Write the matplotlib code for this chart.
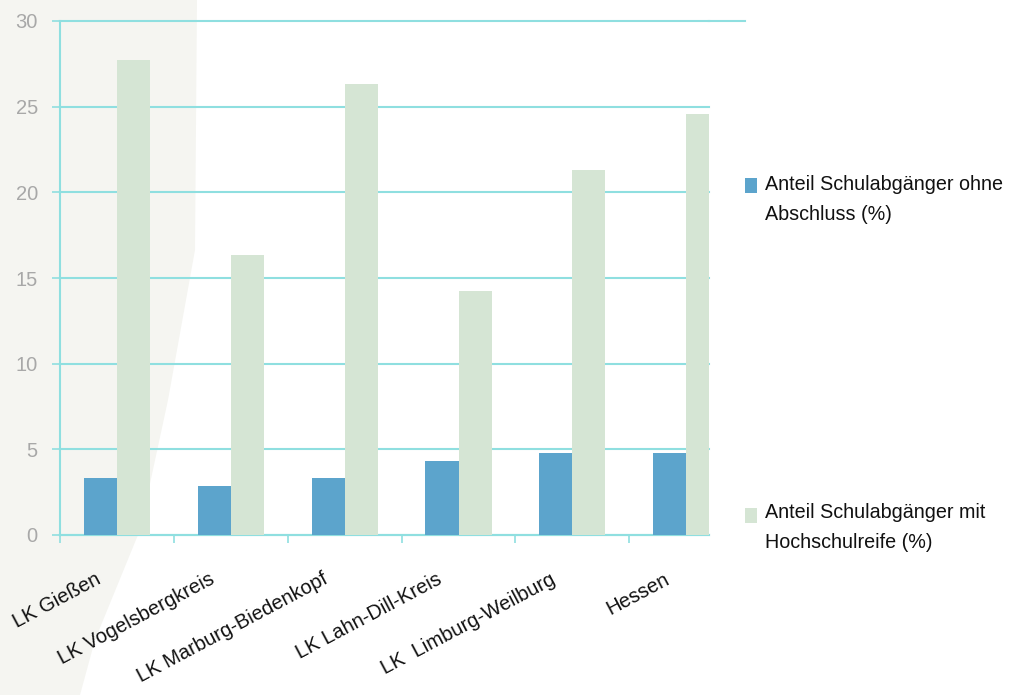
import matplotlib
matplotlib.use("Agg")
import matplotlib.pyplot as plt
from matplotlib.patches import Polygon, Rectangle
from matplotlib.lines import Line2D

categories = ["LK Gießen", "LK Vogelsbergkreis", "LK Marburg-Biedenkopf",
              "LK Lahn-Dill-Kreis", "LK  Limburg-Weilburg", "Hessen"]
ohne_abschluss = [3.3, 2.85, 3.3, 4.3, 4.8, 4.8]
hochschulreife = [27.7, 16.35, 26.3, 14.25, 21.3, 24.6]
legend_labels = ["Anteil Schulabgänger ohne\nAbschluss (%)",
                 "Anteil Schulabgänger mit\nHochschulreife (%)"]
yticks = [0, 5, 10, 15, 20, 25, 30]

BLUE = "#5ca4cc"
GREEN = "#d5e5d4"
GRID = "#8fdfe0"
FONT = ["Liberation Sans", "DejaVu Sans"]

W, H = 1011, 695
fig = plt.figure(figsize=(W / 100, H / 100), dpi=100)
fig.patch.set_facecolor("white")

# faint textured background on the left
bg = Polygon([(0, 1), (197 / W, 1), (195 / W, 1 - 250 / H), (168 / W, 1 - 400 / H),
              (140 / W, 1 - 530 / H), (95 / W, 1 - 640 / H), (80 / W, 0), (0, 0)],
             closed=True, transform=fig.transFigure, facecolor="#f5f5f1",
             edgecolor="none", zorder=-10)
fig.patches.append(bg)

ax = fig.add_axes([60 / W, 1 - 535 / H, (709 - 60) / W, (535 - 21) / H], zorder=1)
ax.set_facecolor("none")

x = list(range(len(categories)))
bw = 0.29
ax.bar([i - bw / 2 for i in x], ohne_abschluss, width=bw, color=BLUE, zorder=3)
ax.bar([i + bw / 2 for i in x], hochschulreife, width=bw, color=GREEN, zorder=3)

ax.set_ylim(0, 30)
ax.set_xlim(-0.5, 5.2)
ax.set_yticks(yticks)
ax.set_yticklabels([str(v) for v in yticks], fontfamily=FONT, fontsize=14.5, color="#a8a8a8")
ax.yaxis.grid(True, color=GRID, linewidth=1.5, zorder=1)
for gl in ax.get_ygridlines():
    gl.set_clip_on(False)
ax.tick_params(axis="y", length=6, color=GRID, width=1.2, pad=10)

ax.set_xticks([i - 0.5 for i in range(len(categories))])
ax.set_xticklabels([])
ax.tick_params(axis="x", length=6, color=GRID, width=1.2)
for i, lab in enumerate(categories):
    ax.annotate(lab, xy=(i + 0.0, 0), xycoords=("data", "axes fraction"),
                xytext=(-16, -25), textcoords="offset points",
                ha="right", va="top", rotation=28, rotation_mode="anchor",
                fontfamily=FONT, fontsize=14.5, color="#111111", annotation_clip=False)

for s in ["top", "right"]:
    ax.spines[s].set_visible(False)
ax.spines["left"].set_color(GRID)
ax.spines["bottom"].set_color(GRID)
ax.spines["left"].set_linewidth(1.5)
ax.spines["bottom"].set_linewidth(1.5)
ax.set_axisbelow(True)

# top gridline extension
fig.add_artist(Line2D([709 / W, 745 / W], [1 - 21 / H, 1 - 21 / H],
                      transform=fig.transFigure, color=GRID, linewidth=1.5))

# legend
for (sq_top, txt_top, col, lab) in [(178, 175, BLUE, legend_labels[0]),
                                     (508, 503, GREEN, legend_labels[1])]:
    fig.patches.append(Rectangle((745 / W, 1 - (sq_top + 15) / H), 12 / W, 15 / H,
                                 transform=fig.transFigure, facecolor=col, edgecolor="none"))
    fig.text(765 / W, 1 - txt_top / H, lab, ha="left", va="top",
             fontfamily=FONT, fontsize=14.2, color="#111111", linespacing=1.75)

fig.savefig("out.png", dpi=100)
